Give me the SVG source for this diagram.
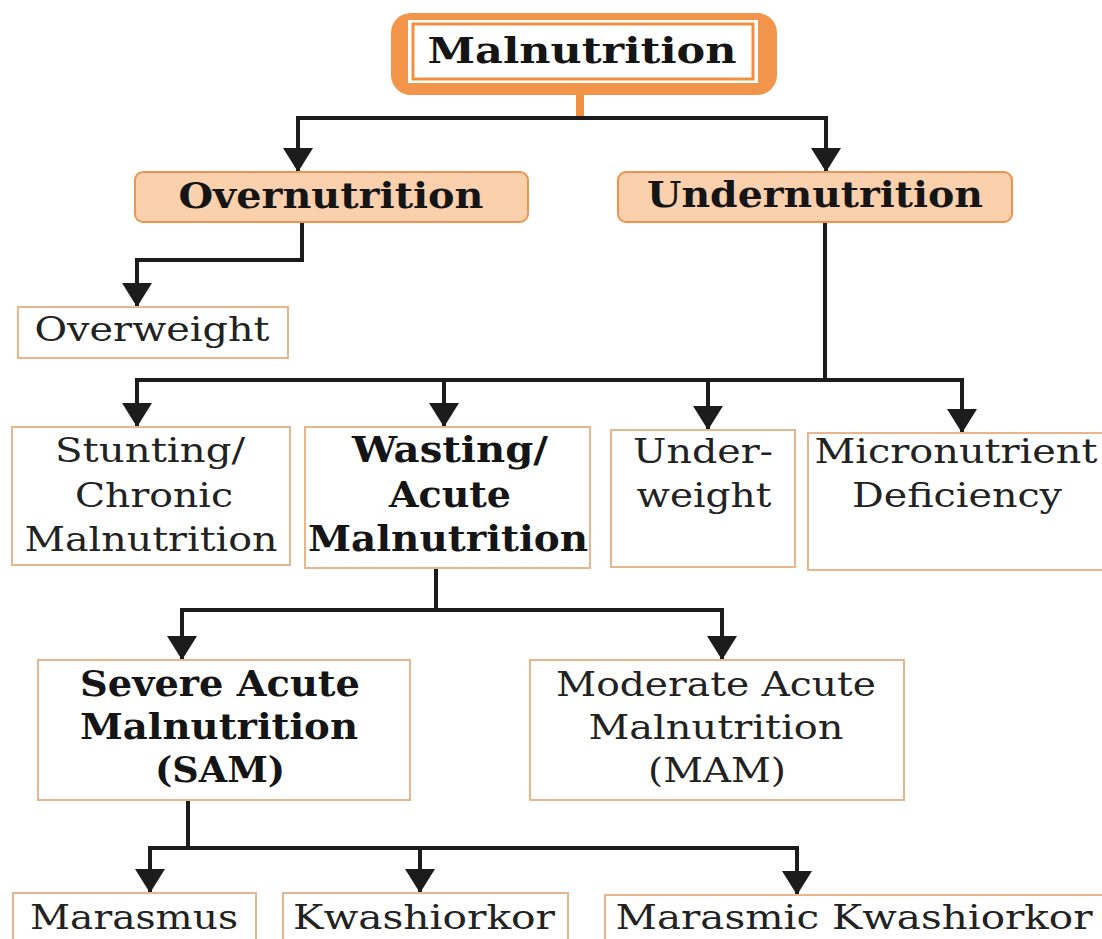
<svg xmlns="http://www.w3.org/2000/svg" width="1102" height="939" viewBox="0 0 1102 939">
<defs>
<marker id="ah" viewBox="0 0 24 30" refX="24" refY="15" markerWidth="24" markerHeight="30" orient="auto" markerUnits="userSpaceOnUse"><path d="M0,0 L24,15 L0,30 z" fill="#1c1c1c"/></marker>
<style>
.box{fill:#ffffff;stroke:#e8b68a;stroke-width:2}
.pbox{fill:#fad0ad;stroke:#ec9550;stroke-width:2}
.t{font-family:"DejaVu Serif","Liberation Serif",serif;font-size:34px;fill:#222;text-anchor:middle}
.b{font-family:"DejaVu Serif","Liberation Serif",serif;font-size:35px;font-weight:bold;fill:#151515;text-anchor:middle}
.c{fill:none;stroke:#1c1c1c;stroke-width:4}
.a{fill:none;stroke:#1c1c1c;stroke-width:4;marker-end:url(#ah)}
</style>
</defs>
<rect width="1102" height="939" fill="#ffffff"/>
<g id="connectors">
<line x1="580" y1="94" x2="580" y2="118" stroke="#f0913f" stroke-width="8"/>
<path class="c" d="M296,118 H828"/>
<path class="a" d="M298,118 V172"/>
<path class="a" d="M826,118 V172"/>
<path class="c" d="M302,222 V260 H135"/>
<path class="a" d="M137,260 V307"/>
<path class="c" d="M825,222 V380"/>
<path class="c" d="M135,380 H964"/>
<path class="a" d="M137,380 V427"/>
<path class="a" d="M444,380 V427"/>
<path class="a" d="M708,380 V430"/>
<path class="a" d="M962,380 V433"/>
<path class="c" d="M436,568 V610"/>
<path class="c" d="M180,610 H724"/>
<path class="a" d="M182,610 V660"/>
<path class="a" d="M722,610 V660"/>
<path class="c" d="M188,800 V848"/>
<path class="c" d="M148,848 H799"/>
<path class="a" d="M150,848 V893"/>
<path class="a" d="M420,848 V893"/>
<path class="a" d="M797,848 V895"/>
</g>
<g id="malnutrition">
<rect x="391" y="13" width="386" height="82" rx="20" fill="#f2954a"/>
<rect x="408" y="20" width="350" height="63" fill="#ffffff"/>
<rect x="413" y="24" width="340" height="55" fill="#ffffff" stroke="#f0913f" stroke-width="3"/>
<text class="b" x="582" y="63" font-size="37" textLength="309" lengthAdjust="spacingAndGlyphs">Malnutrition</text>
</g>
<g id="overnutrition">
<rect class="pbox" x="135" y="172" width="393" height="50" rx="8"/>
<text class="b" x="331" y="208" textLength="305" lengthAdjust="spacingAndGlyphs">Overnutrition</text>
</g>
<g id="undernutrition">
<rect class="pbox" x="618" y="172" width="394" height="50" rx="8"/>
<text class="b" x="815" y="207" textLength="336" lengthAdjust="spacingAndGlyphs">Undernutrition</text>
</g>
<g id="overweight">
<rect class="box" x="18" y="307" width="270" height="51"/>
<text class="t" x="152" y="341" textLength="235" lengthAdjust="spacingAndGlyphs">Overweight</text>
</g>
<g id="stunting">
<rect class="box" x="12" y="427" width="278" height="138"/>
<text class="t" x="150" y="462" textLength="190" lengthAdjust="spacingAndGlyphs">Stunting/</text>
<text class="t" x="154" y="507" textLength="158" lengthAdjust="spacingAndGlyphs">Chronic</text>
<text class="t" x="151" y="551" textLength="253" lengthAdjust="spacingAndGlyphs">Malnutrition</text>
</g>
<g id="wasting">
<rect class="box" x="305" y="427" width="285" height="141"/>
<text class="b" x="450" y="462" textLength="196" lengthAdjust="spacingAndGlyphs">Wasting/</text>
<text class="b" x="450" y="507" textLength="122" lengthAdjust="spacingAndGlyphs">Acute</text>
<text class="b" x="448" y="551" textLength="280" lengthAdjust="spacingAndGlyphs">Malnutrition</text>
</g>
<g id="underweight">
<rect class="box" x="611" y="430" width="184" height="137"/>
<text class="t" x="703" y="463" textLength="140" lengthAdjust="spacingAndGlyphs">Under-</text>
<text class="t" x="704" y="507" textLength="135" lengthAdjust="spacingAndGlyphs">weight</text>
</g>
<g id="micronutrient">
<rect class="box" x="808" y="433" width="300" height="137"/>
<text class="t" x="956" y="463" textLength="283" lengthAdjust="spacingAndGlyphs">Micronutrient</text>
<text class="t" x="957" y="507" textLength="210" lengthAdjust="spacingAndGlyphs">Deficiency</text>
</g>
<g id="sam">
<rect class="box" x="38" y="660" width="372" height="140"/>
<text class="b" x="220" y="696" textLength="280" lengthAdjust="spacingAndGlyphs">Severe Acute</text>
<text class="b" x="219" y="739" textLength="278" lengthAdjust="spacingAndGlyphs">Malnutrition</text>
<text class="b" x="220" y="782" textLength="130" lengthAdjust="spacingAndGlyphs">(SAM)</text>
</g>
<g id="mam">
<rect class="box" x="530" y="660" width="374" height="140"/>
<text class="t" x="716" y="696" textLength="320" lengthAdjust="spacingAndGlyphs">Moderate Acute</text>
<text class="t" x="716" y="739" textLength="255" lengthAdjust="spacingAndGlyphs">Malnutrition</text>
<text class="t" x="717" y="782" textLength="138" lengthAdjust="spacingAndGlyphs">(MAM)</text>
</g>
<g id="marasmus">
<rect class="box" x="13" y="893" width="243" height="60"/>
<text class="t" x="134" y="929" textLength="208" lengthAdjust="spacingAndGlyphs">Marasmus</text>
</g>
<g id="kwashiorkor">
<rect class="box" x="283" y="893" width="285" height="60"/>
<text class="t" x="424" y="929" textLength="262" lengthAdjust="spacingAndGlyphs">Kwashiorkor</text>
</g>
<g id="marasmic">
<rect class="box" x="605" y="895" width="505" height="60"/>
<text class="t" x="854" y="929" textLength="477" lengthAdjust="spacingAndGlyphs">Marasmic Kwashiorkor</text>
</g>
</svg>
